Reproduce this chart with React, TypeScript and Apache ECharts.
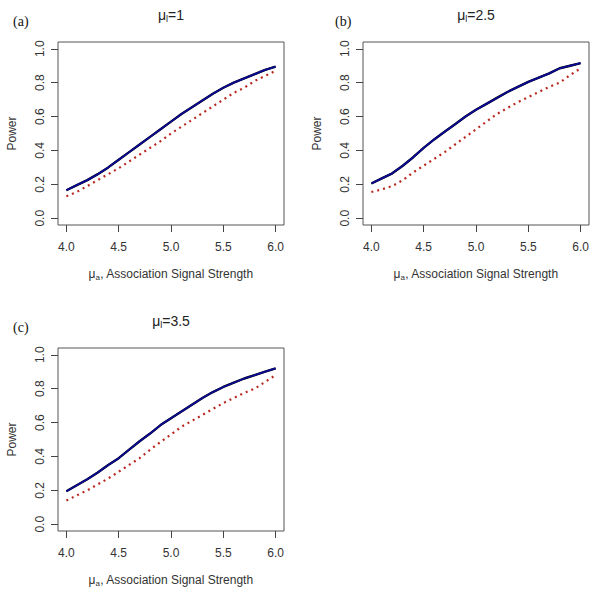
import React, { useEffect, useRef } from "react";
import * as echarts from "echarts";

const xs = [4.0, 4.1, 4.2, 4.3, 4.4, 4.5, 4.6, 4.7, 4.8, 4.9, 5.0, 5.1, 5.2, 5.3, 5.4, 5.5, 5.6, 5.7, 5.8, 5.9, 6.0];

const blueA = [0.165, 0.195, 0.225, 0.26, 0.3, 0.345, 0.39, 0.435, 0.48, 0.525, 0.57, 0.615, 0.655, 0.695, 0.735, 0.77, 0.8, 0.825, 0.85, 0.875, 0.895];
const redA = [0.13, 0.155, 0.19, 0.225, 0.26, 0.295, 0.335, 0.375, 0.415, 0.455, 0.5, 0.54, 0.58, 0.62, 0.66, 0.7, 0.74, 0.77, 0.81, 0.84, 0.87];

const blueB = [0.205, 0.235, 0.265, 0.31, 0.36, 0.415, 0.465, 0.51, 0.555, 0.6, 0.64, 0.675, 0.71, 0.745, 0.775, 0.805, 0.83, 0.855, 0.885, 0.9, 0.915];
const redB = [0.155, 0.17, 0.19, 0.225, 0.27, 0.31, 0.35, 0.39, 0.435, 0.48, 0.525, 0.57, 0.615, 0.65, 0.685, 0.715, 0.745, 0.775, 0.8, 0.845, 0.885];

const blueC = [0.195, 0.23, 0.265, 0.305, 0.35, 0.39, 0.44, 0.49, 0.535, 0.585, 0.625, 0.665, 0.705, 0.745, 0.78, 0.81, 0.835, 0.86, 0.88, 0.9, 0.92];
const redC = [0.14, 0.17, 0.2, 0.235, 0.27, 0.31, 0.35, 0.39, 0.44, 0.485, 0.53, 0.575, 0.61, 0.645, 0.68, 0.715, 0.745, 0.775, 0.8, 0.84, 0.88];

const xTicks = [4.0, 4.5, 5.0, 5.5, 6.0];
const yTicks = [0.0, 0.2, 0.4, 0.6, 0.8, 1.0];

const panelTags = ["(a)", "(b)", "(c)"];
const panelMuL = ["1", "2.5", "3.5"];

const SANS = "'Liberation Sans', Arial, sans-serif";
const SERIF = "'Liberation Serif', 'Times New Roman', serif";

export default function App() {
  const ref = useRef<HTMLDivElement>(null);

  useEffect(() => {
    const chart = echarts.init(ref.current!, null, { renderer: "svg" });

    const layout = [
      { left: 58, top: 42, width: 226, height: 183 },
      { left: 363, top: 42, width: 226, height: 183 },
      { left: 58, top: 348, width: 226, height: 183 },
    ];
    const blues = [blueA, blueB, blueC];
    const reds = [redA, redB, redC];

    const grids: any[] = [];
    const xAxes: any[] = [];
    const yAxes: any[] = [];
    const series: any[] = [];
    const graphics: any[] = [];

    layout.forEach((g, i) => {
      grids.push({
        left: g.left,
        top: g.top,
        width: g.width,
        height: g.height,
        show: true,
        borderColor: "#555",
        borderWidth: 1,
        backgroundColor: "transparent",
        containLabel: false,
      });
      xAxes.push({
        gridIndex: i,
        type: "value",
        min: 3.92,
        max: 6.08,
        axisLine: { show: false, onZero: false },
        axisTick: {
          show: true,
          inside: false,
          length: 7,
          lineStyle: { color: "#444" },
          customValues: xTicks,
        },
        axisLabel: {
          customValues: xTicks,
          formatter: (v: number) => v.toFixed(1),
          margin: 16,
          fontSize: 12,
          color: "#333",
          fontFamily: SANS,
        },
        splitLine: { show: false },
        name: "{m|\u03bc}{s|a}{m|, Association Signal Strength}",
        nameLocation: "middle",
        nameGap: 42,
        nameTextStyle: {
          rich: {
            m: { fontSize: 12, color: "#333", fontFamily: SANS },
            s: { fontSize: 8, color: "#333", fontFamily: SANS, padding: [6, 0, 0, 0] },
          },
        },
      });
      yAxes.push({
        gridIndex: i,
        type: "value",
        min: -0.04,
        max: 1.04,
        axisLine: { show: false, onZero: false },
        axisTick: {
          show: true,
          inside: false,
          length: 7,
          lineStyle: { color: "#444" },
          customValues: yTicks,
        },
        axisLabel: {
          customValues: yTicks,
          formatter: (v: number) => v.toFixed(1),
          rotate: 90,
          margin: 12,
          fontSize: 12,
          color: "#333",
          fontFamily: SANS,
        },
        splitLine: { show: false },
        name: "Power",
        nameLocation: "middle",
        nameRotate: 90,
        nameGap: 40,
        nameTextStyle: { fontSize: 12, color: "#333", fontFamily: SANS },
      });

      const blackData = xs.map((x, k) => [x, blues[i][k]]);
      const blueData = xs.map((x, k) => [x, blues[i][k]]);
      const redData = xs.map((x, k) => [x, reds[i][k]]);

      series.push({
        type: "line",
        xAxisIndex: i,
        yAxisIndex: i,
        data: redData,
        showSymbol: false,
        lineStyle: { color: "#B8281E", width: 2.2, type: [2, 4], cap: "butt" },
        z: 2,
      });
      series.push({
        type: "line",
        xAxisIndex: i,
        yAxisIndex: i,
        data: blackData,
        showSymbol: false,
        lineStyle: { color: "#000", width: 2.4 },
        z: 3,
      });
      series.push({
        type: "line",
        xAxisIndex: i,
        yAxisIndex: i,
        data: blueData,
        showSymbol: false,
        lineStyle: { color: "#0A0A96", width: 1.8 },
        z: 4,
      });

      const cx = g.left + g.width / 2;
      graphics.push({
        type: "text",
        x: cx,
        y: g.top - 27,
        style: {
          text: "{m|\u03bc}{s|l}{m|=" + panelMuL[i] + "}",
          textAlign: "center",
          textVerticalAlign: "middle",
          rich: {
            m: { fontSize: 14, fill: "#222", fontFamily: SANS },
            s: { fontSize: 9, fill: "#222", fontFamily: SANS, padding: [7, 0, 0, 0] },
          },
        },
      });
      graphics.push({
        type: "text",
        x: i === 1 ? g.left - 28 : g.left - 45,
        y: g.top - 21,
        style: {
          text: panelTags[i],
          textAlign: "left",
          textVerticalAlign: "middle",
          fontSize: 14,
          fill: "#111",
          fontFamily: SERIF,
        },
      });
    });

    chart.setOption({
      animation: false,
      backgroundColor: "#fff",
      grid: grids,
      xAxis: xAxes,
      yAxis: yAxes,
      series,
      graphic: graphics,
    });

    return () => chart.dispose();
  }, []);

  return (
    <div
      ref={ref}
      style={{ position: "absolute", left: 0, top: 0, width: 600, height: 594, background: "#fff" }}
    />
  );
}
